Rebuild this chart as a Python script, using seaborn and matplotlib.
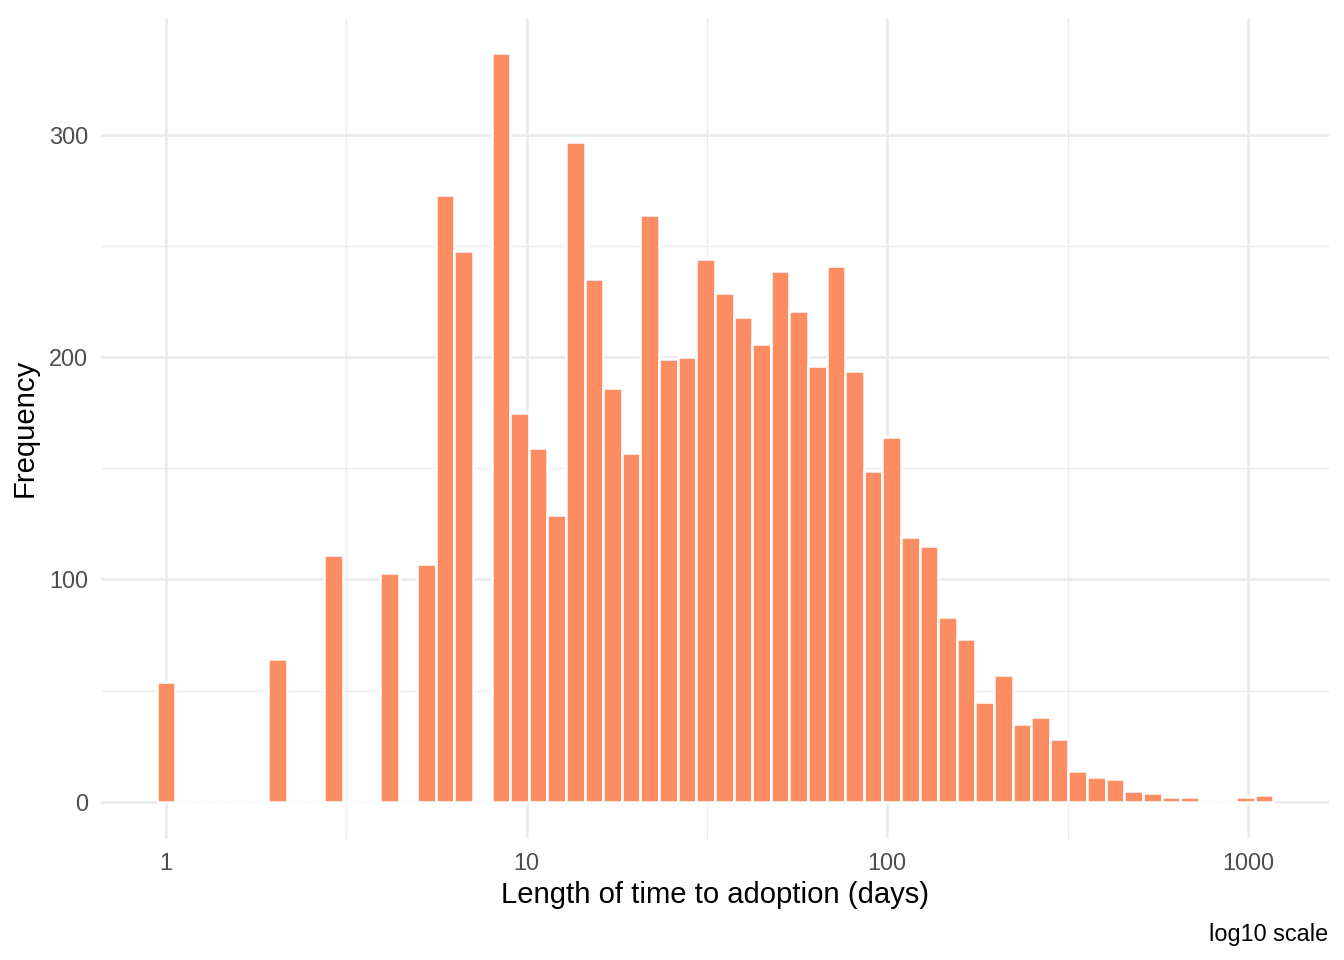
import numpy as np
import pandas as pd
import seaborn as sns
import matplotlib.pyplot as plt
from matplotlib.ticker import FixedLocator, NullFormatter

# Histogram bin counts (bins of equal width on a log10 scale, first bin centred on 1 day)
counts = [54, 0, 0, 0, 0, 0, 64, 0, 0, 111,
          0, 0, 103, 0, 107, 273, 248, 0, 337, 175,
          159, 129, 297, 235, 186, 157, 264, 199, 200, 244,
          229, 218, 206, 239, 221, 196, 241, 194, 149, 164,
          119, 115, 83, 73, 45, 57, 35, 38, 28, 14,
          11, 10, 5, 4, 2, 2, 0, 0, 2, 3]
bin_width_log = 0.0516
x_ticks = [1, 10, 100, 1000]
x_tick_labels = ["1", "10", "100", "1000"]
y_ticks = [0, 100, 200, 300]

centers_days = 10 ** (np.arange(len(counts)) * bin_width_log)
df = pd.DataFrame({"days": centers_days, "n": counts})

sns.set_theme(style="white")
plt.rcParams["font.family"] = ["Liberation Sans", "DejaVu Sans"]

fig = plt.figure(figsize=(13.44, 9.6), dpi=100)
ax = fig.add_axes([101 / 1344, 1 - 839 / 960, (1329 - 101) / 1344, (839 - 17.6) / 960])

sns.histplot(data=df, x="days", weights="n", log_scale=True,
             binwidth=bin_width_log,
             binrange=(-bin_width_log / 2, (len(counts) - 0.5) * bin_width_log),
             color="#FC8D62", alpha=1, edgecolor="white", linewidth=1.8, ax=ax)

ax.set_xlim(10 ** -0.18, 10 ** 3.225)
ax.set_ylim(-16.8, 352.8)
ax.xaxis.set_major_locator(FixedLocator(x_ticks))
ax.set_xticklabels(x_tick_labels)
ax.xaxis.set_minor_locator(FixedLocator([10 ** 0.5, 10 ** 1.5, 10 ** 2.5]))
ax.xaxis.set_minor_formatter(NullFormatter())
ax.yaxis.set_major_locator(FixedLocator(y_ticks))
ax.yaxis.set_minor_locator(FixedLocator([50, 150, 250]))
ax.yaxis.set_minor_formatter(NullFormatter())

ax.grid(which="major", color="#EBEBEB", linewidth=2.0)
ax.grid(which="minor", color="#EBEBEB", linewidth=1.0)
ax.set_axisbelow(True)
for s in ax.spines.values():
    s.set_visible(False)
ax.tick_params(which="both", length=0)
ax.tick_params(axis="both", which="major", labelsize=16.9, labelcolor="#4D4D4D", pad=9.4)

ax.set_xlabel("Length of time to adoption (days)", fontsize=21.1, color="black", labelpad=4.5)
ax.set_ylabel("Frequency", fontsize=21.1, color="black", labelpad=7)

fig.text(1328 / 1344, 1 - 934 / 960, "log10 scale", ha="right", va="center",
         fontsize=16.9, color="black")

fig.savefig("out.png", dpi=100)
